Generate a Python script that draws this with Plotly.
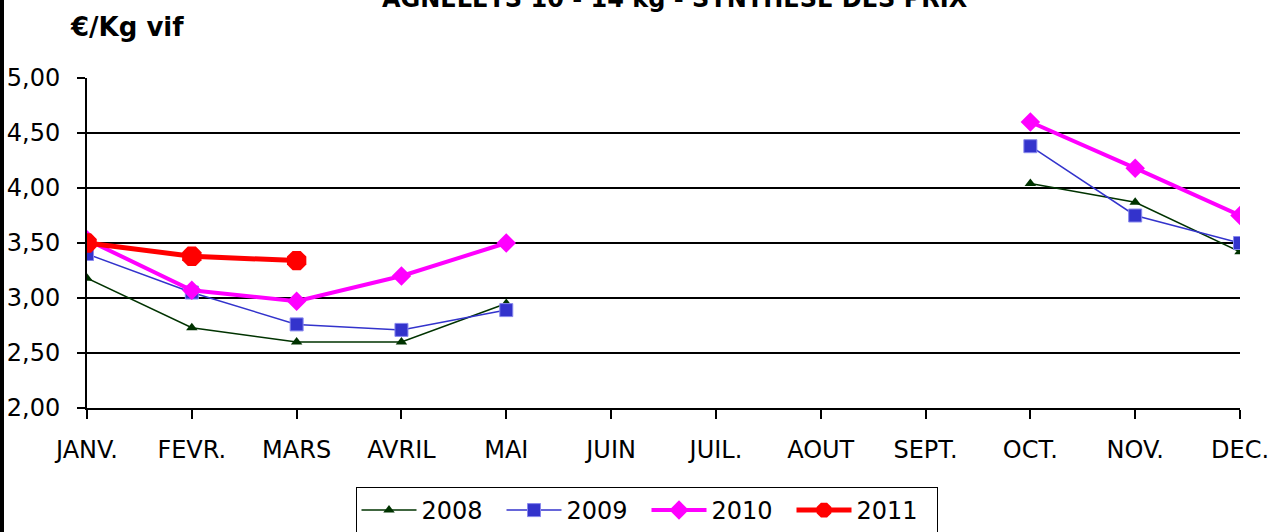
import plotly.graph_objects as go

months = ["JANV.", "FEVR.", "MARS", "AVRIL", "MAI", "JUIN", "JUIL.", "AOUT", "SEPT.", "OCT.", "NOV.", "DEC."]
y2008 = [3.18, 2.73, 2.60, 2.60, 2.95, None, None, None, None, 4.04, 3.87, 3.42]
y2009 = [3.40, 3.05, 2.76, 2.71, 2.89, None, None, None, None, 4.38, 3.75, 3.50]
y2010 = [3.53, 3.07, 2.97, 3.20, 3.50, None, None, None, None, 4.60, 4.18, 3.75]
y2011 = [3.50, 3.38, 3.34, None, None, None, None, None, None, None, None, None]
yticks = [2.0, 2.5, 3.0, 3.5, 4.0, 4.5, 5.0]
yticklabels = ["2,00", "2,50", "3,00", "3,50", "4,00", "4,50", "5,00"]

xs = list(range(len(months)))
FONT = "DejaVu Sans"
W, H = 1271, 532
L, R, T, B = 87, 31, 78, 124
PW, PH = W - L - R, H - T - B

def px(x):
    return (x - L) / PW

def py(y):
    return (H - B - y) / PH

fig = go.Figure()
fig.add_trace(go.Scatter(x=xs, y=y2008, name="2008", mode="lines+markers",
                         line=dict(color="#003300", width=1.5),
                         marker=dict(symbol="triangle-up", size=10, color="#003300")))
fig.add_trace(go.Scatter(x=xs, y=y2009, name="2009", mode="lines+markers",
                         line=dict(color="#3333CC", width=1.5),
                         marker=dict(symbol="square", size=13, color="#3333CC",
                                     line=dict(color="#8888EE", width=1))))
fig.add_trace(go.Scatter(x=xs, y=y2010, name="2010", mode="lines+markers",
                         line=dict(color="#FF00FF", width=4),
                         marker=dict(symbol="diamond", size=15, color="#FF00FF")))
fig.add_trace(go.Scatter(x=xs, y=y2011, name="2011", mode="lines+markers",
                         line=dict(color="#FF0000", width=5),
                         marker=dict(symbol="octagon", size=21, color="#FF0000")))

fig.update_layout(
    width=W, height=H,
    margin=dict(l=L, r=R, t=T, b=B, autoexpand=False),
    paper_bgcolor="white", plot_bgcolor="white",
    font=dict(family=FONT, size=24, color="black"),
    showlegend=True,
    legend=dict(orientation="h", xref="container", yref="container",
                x=646.5 / W, xanchor="center", y=1 - 487 / H, yanchor="top",
                bordercolor="black", borderwidth=1, bgcolor="white",
                font=dict(size=24), itemwidth=55, entrywidth=75, tracegroupgap=0),
    xaxis=dict(range=[0, 11], tickmode="array", tickvals=xs, ticktext=months,
               automargin=False, ticklabelstandoff=10,
               showgrid=False, zeroline=False, showline=True, linecolor="black", linewidth=2,
               ticks="outside", ticklen=9, tickwidth=2, tickcolor="black"),
    xaxis2=dict(range=[0, 11], overlaying="x", anchor="y", side="bottom",
                tickmode="array", tickvals=xs, showticklabels=False, automargin=False,
                showgrid=False, zeroline=False, showline=False,
                ticks="inside", ticklen=9, tickwidth=2, tickcolor="black"),
    yaxis=dict(range=[2.0, 5.0], tickmode="array", tickvals=yticks, ticktext=yticklabels,
               automargin=False, ticklabelstandoff=12,
               showgrid=True, gridcolor="black", gridwidth=2, zeroline=False,
               showline=True, linecolor="black", linewidth=2,
               ticks="outside", ticklen=8, tickwidth=2, tickcolor="black"),
    annotations=[
        dict(text="<b>AGNELETS 10 - 14 kg - SYNTHESE DES PRIX</b>", xref="paper", yref="paper",
             x=px(675), y=py(-1), xanchor="center", yanchor="middle",
             showarrow=False, font=dict(size=24, family=FONT)),
        dict(text="<b>€/Kg vif</b>", xref="paper", yref="paper",
             x=px(68), y=py(27), xanchor="left", yanchor="middle",
             showarrow=False, font=dict(size=26, family=FONT)),
    ],
    shapes=[dict(type="line", xref="paper", yref="paper",
                 x0=px(2), x1=px(2), y0=py(H + 2), y1=py(-2),
                 line=dict(color="black", width=4))],
)

fig.write_html("out.html", config={"displayModeBar": False},
               post_script="document.body.style.margin='0px';document.body.style.overflow='hidden';")
